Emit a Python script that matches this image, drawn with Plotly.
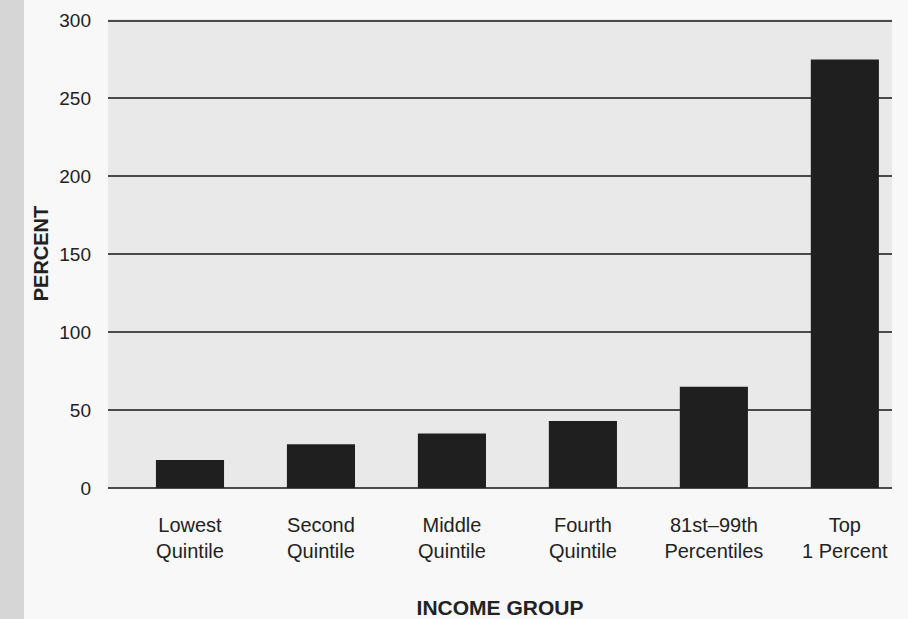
import plotly.graph_objects as go

categories = ["Lowest<br>Quintile", "Second<br>Quintile", "Middle<br>Quintile",
              "Fourth<br>Quintile", "81st–99th<br>Percentiles", "Top<br>1 Percent"]
values = [18, 28, 35, 43, 65, 275]
y_ticks = [0, 50, 100, 150, 200, 250, 300]

W, H = 908, 619
ml, mr, mt, mb = 108, 16, 19, 131

fig = go.Figure(go.Bar(
    x=categories, y=values,
    marker=dict(color="#1f1f1f", line=dict(width=0)),
    width=0.52,
))

font = "Liberation Sans, Arial, sans-serif"
fig.update_layout(
    width=W, height=H,
    margin=dict(l=ml, r=mr, t=mt, b=mb),
    paper_bgcolor="#f8f8f8",
    plot_bgcolor="#e9e9e9",
    showlegend=False,
    font=dict(family=font, size=20, color="#222"),
    xaxis=dict(
        range=[-0.626, 5.36],
        automargin=False,
        showgrid=False,
        ticks="",
        ticklabelstandoff=23,
        tickfont=dict(size=20, color="#222"),
        title=dict(text="<b>INCOME GROUP</b>", font=dict(size=21, color="#222"), standoff=39),
    ),
    yaxis=dict(
        range=[0, 301],
        automargin=False,
        tickvals=y_ticks,
        showgrid=True, gridcolor="#4a4a4a", gridwidth=1.5,
        zeroline=True, zerolinecolor="#4a4a4a", zerolinewidth=1.5,
        ticks="",
        ticklabelstandoff=16,
        tickfont=dict(size=19, color="#222"),
        title=dict(text="<b>PERCENT</b>", font=dict(size=20, color="#222"), standoff=5),
    ),
    shapes=[dict(type="rect", xref="paper", yref="paper",
                 x0=-ml / (W - ml - mr), x1=(-ml + 24) / (W - ml - mr),
                 y0=-mb / (H - mt - mb), y1=1 + mt / (H - mt - mb),
                 fillcolor="#d6d6d6", line=dict(width=0), layer="below")],
)

fig.write_html("out.html")
